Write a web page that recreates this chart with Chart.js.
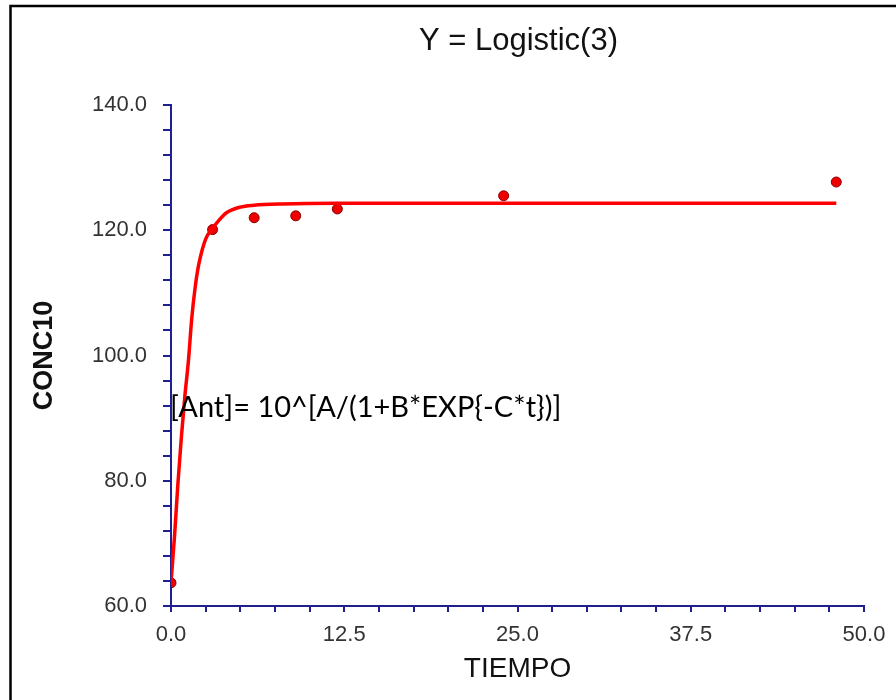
<!DOCTYPE html>
<html>
<head>
<meta charset="utf-8">
<script src="https://cdn.jsdelivr.net/npm/chart.js@4"></script>
<style>
	html, body { margin: 0; padding: 0; background: #fff; }
	#wrap { width: 896px; height: 700px; }
</style>
</head>
<body>
<div id="wrap"><canvas id="logistic" width="896" height="700"></canvas></div>
<script>
// observed points
const obsTime = [0, 3, 6, 9, 12, 24, 48];
const obsConc = [63.7, 120.1, 122.0, 122.3, 123.4, 125.5, 127.7];

// fitted curve
const fitTime = [0, 0.25, 0.5, 0.75, 1.0, 1.25, 1.5, 1.75, 2.0, 2.5, 3.0, 3.5, 4.0, 5.0, 6.0, 8.0, 12, 24, 48];
const fitConc = [63.8, 71.0, 79.6, 87.0, 93.5, 99.0, 106.0, 111.0, 114.5, 118.6, 120.3, 121.7, 122.8, 123.7, 124.0, 124.2, 124.3, 124.3, 124.3];

const xMin = 0, xMax = 50, xStep = 2.5, xLabelEvery = 12.5;
const yMin = 60, yMax = 140, yStep = 4, yLabelEvery = 20;

const chartTitle = "Y = Logistic(3)";
const xTitle = "TIEMPO";
const yTitle = "CONC10";
const formulaText = "[Ant]= 10^[A/(1+B*EXP{-C*t})]";

const navy = "#1f1f8f";
const tickFont = { family: "Liberation Sans, Arial, sans-serif", size: 22 };

function toPoints(xs, ys) {
	return xs.map((x, i) => ({ x: x, y: ys[i] }));
}

function onMultiple(v, m) {
	const r = Math.abs(v / m - Math.round(v / m));
	return r < 1e-6;
}

const decorations = {
	id: "decorations",
	beforeDraw(chart) {
		const ctx = chart.ctx;
		ctx.save();
		ctx.fillStyle = "#fff";
		ctx.fillRect(0, 0, chart.width, chart.height);
		ctx.strokeStyle = "#000";
		ctx.lineWidth = 2.5;
		ctx.strokeRect(10.5, 6, chart.width + 20, chart.height + 20);
		ctx.restore();
	},
	afterDraw(chart) {
		const ctx = chart.ctx;
		const area = chart.chartArea;
		ctx.save();
		ctx.fillStyle = "#111";
		ctx.font = "31px Liberation Sans, Arial, sans-serif";
		ctx.textAlign = "center";
		ctx.textBaseline = "middle";
		ctx.fillText(chartTitle, (area.left + area.right) / 2 + 1, 41);

		ctx.fillStyle = "#000";
		ctx.font = "29px Lato, sans-serif";
		ctx.textAlign = "left";
		ctx.fillText(formulaText, area.left - 1, 408);
		ctx.restore();
	},
};

const canvas = document.getElementById("logistic");
const myChart = new Chart(canvas, {
	type: "scatter",
	data: {
		datasets: [
			{
				label: "Fit",
				data: toPoints(fitTime, fitConc),
				showLine: true,
				borderColor: "#ff0000",
				borderWidth: 3.5,
				pointRadius: 0,
				cubicInterpolationMode: "monotone",
				fill: false,
			},
			{
				label: "Observed",
				data: toPoints(obsTime, obsConc),
				showLine: false,
				backgroundColor: "#ee0000",
				borderColor: "#880000",
				borderWidth: 1,
				pointRadius: 5,
			},
		],
	},
	options: {
		responsive: false,
		animation: false,
		layout: {
			padding: { top: 105, right: 32, bottom: 0, left: 0 },
		},
		scales: {
			x: {
				type: "linear",
				min: xMin,
				max: xMax,
				afterFit: (scale) => {
					scale.height = 94;
				},
				border: { display: true, color: navy, width: 2 },
				grid: {
					display: true,
					drawOnChartArea: false,
					drawTicks: true,
					tickLength: 6,
					color: navy,
					lineWidth: 2,
				},
				ticks: {
					stepSize: xStep,
					autoSkip: false,
					maxRotation: 0,
					padding: 10,
					color: "#333",
					font: tickFont,
					callback: (v) => (onMultiple(v, xLabelEvery) ? v.toFixed(1) : ""),
				},
				title: {
					display: true,
					text: xTitle,
					color: "#111",
					font: { family: "Liberation Sans, Arial, sans-serif", size: 28 },
					padding: { top: 0, bottom: 14 },
				},
			},
			y: {
				type: "linear",
				min: yMin,
				max: yMax,
				afterFit: (scale) => {
					scale.width = 171;
				},
				border: { display: true, color: navy, width: 2 },
				grid: {
					display: true,
					drawOnChartArea: false,
					drawTicks: true,
					tickLength: 8,
					color: navy,
					lineWidth: 2,
				},
				ticks: {
					stepSize: yStep,
					autoSkip: false,
					padding: 16,
					color: "#333",
					font: tickFont,
					callback: (v) => (onMultiple(v, yLabelEvery) ? v.toFixed(1) : ""),
				},
				title: {
					display: true,
					text: yTitle,
					color: "#111",
					font: { family: "Liberation Sans, Arial, sans-serif", size: 27, weight: "bold" },
					padding: { top: 28, bottom: 0 },
				},
			},
		},
		plugins: {
			legend: { display: false },
			tooltip: { enabled: false },
		},
	},
	plugins: [decorations],
});
</script>
</body>
</html>
